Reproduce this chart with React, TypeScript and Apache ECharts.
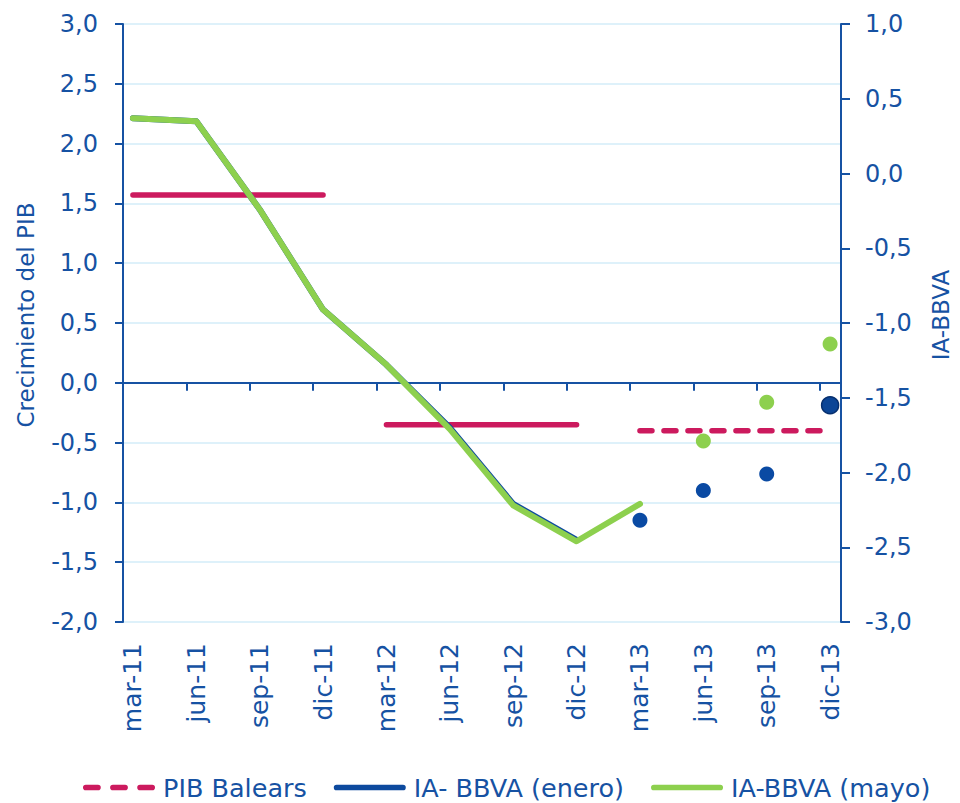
import React, { useEffect, useRef } from "react";
import * as echarts from "echarts";

const categories = [
  "mar-11", "jun-11", "sep-11", "dic-11",
  "mar-12", "jun-12", "sep-12", "dic-12",
  "mar-13", "jun-13", "sep-13", "dic-13",
];

// Crecimiento del PIB (eje izquierdo)
const pibBalears2011 = [1.57, 1.57, 1.57, 1.57, null, null, null, null, null, null, null, null];
const pibBalears2012 = [null, null, null, null, -0.35, -0.35, -0.35, -0.35, null, null, null, null];
const pibBalears2013 = [null, null, null, null, null, null, null, null, -0.4, -0.4, -0.4, -0.4];

// IA-BBVA (eje derecho)
const iaEneroLine = [0.37, 0.35, -0.24, -0.91, -1.28, -1.7, -2.21, -2.45, null, null, null, null];
const iaEneroDots = [null, null, null, null, null, null, null, null, -2.32, -2.12, -2.01, -1.55];
const iaMayoLine = [0.37, 0.35, -0.24, -0.91, -1.28, -1.71, -2.22, -2.46, -2.21, null, null, null];
const iaMayoDots = [null, null, null, null, null, null, null, null, null, -1.79, -1.53, -1.14];

const leftTicks = { min: -2, max: 3, interval: 0.5 };
const rightTicks = { min: -3, max: 1, interval: 0.5 };

const AXIS = "#1652a3";
const NAVY = "#0d4a9e";
const GREEN = "#8dd04e";
const MAGENTA = "#cc1a5e";
const GRIDLINE = "#d3edf8";
const FONT = "DejaVu Sans";

const X_MIN = -0.1565;
const X_MAX = 11.172;

const DASH_ICON =
  "path://M3,0H16A3,3 0 0 1 16,6H3A3,3 0 0 1 3,0Z" +
  "M32,0H45A3,3 0 0 1 45,6H32A3,3 0 0 1 32,0Z" +
  "M61,0H74A3,3 0 0 1 74,6H61A3,3 0 0 1 61,0Z";
const LINE_ICON = "path://M3,0H73A3,3 0 0 1 73,6H3A3,3 0 0 1 3,0Z";

const toPairs = (arr: (number | null)[]) =>
  arr.map((v, i) => (v == null ? null : [i, v])).filter((p) => p !== null);

const fmt = (v: number) => v.toFixed(1).replace(".", ",");

export default function App() {
  const ref = useRef<HTMLDivElement>(null);

  useEffect(() => {
    if (!ref.current) return;
    const chart = echarts.init(ref.current, undefined, { renderer: "svg" });

    const pibLine = (name: string, data: (number | null)[], dashed: boolean) => ({
      name,
      type: "line",
      xAxisIndex: 0,
      yAxisIndex: 0,
      data: toPairs(data),
      symbol: "none",
      z: 2,
      lineStyle: {
        color: MAGENTA,
        width: 5.5,
        cap: "round",
        type: dashed ? [12, 12] : "solid",
      },
      itemStyle: { color: MAGENTA },
    });

    chart.setOption({
      animation: false,
      backgroundColor: "#ffffff",
      textStyle: { fontFamily: FONT },
      grid: { left: 123, right: 113, top: 24, bottom: 181, containLabel: false },
      legend: {
        data: [
          { name: "PIB Balears", icon: DASH_ICON },
          { name: "IA- BBVA (enero)", icon: LINE_ICON },
          { name: "IA-BBVA (mayo)", icon: LINE_ICON },
        ],
        left: 83,
        top: 774,
        padding: 0,
        itemWidth: 72,
        itemHeight: 6,
        itemGap: 27,
        textStyle: { color: AXIS, fontSize: 25.5, lineHeight: 27, fontFamily: FONT, padding: [0, 0, 0, 3] },
      },
      xAxis: [
        {
          type: "value",
          position: "bottom",
          min: X_MIN,
          max: X_MAX,
          axisLine: { show: false, onZero: false },
          axisTick: { show: false },
          splitLine: { show: false },
          axisLabel: {
            customValues: categories.map((_, i) => i),
            formatter: (v: number) => categories[Math.round(v)] ?? "",
            rotate: 90,
            margin: 21,
            color: AXIS,
            fontSize: 25,
            fontFamily: FONT,
          },
        },
        {
          type: "value",
          position: "bottom",
          min: X_MIN,
          max: X_MAX,
          axisLine: { show: true, onZero: true, onZeroAxisIndex: 0, lineStyle: { color: AXIS, width: 2 } },
          axisTick: {
            show: true,
            customValues: categories.map((_, i) => i + X_MIN),
            length: 8,
            inside: false,
            lineStyle: { color: AXIS, width: 2 },
          },
          axisLabel: { show: false },
          splitLine: { show: false },
        },
      ],
      yAxis: [
        {
          type: "value",
          position: "left",
          min: leftTicks.min,
          max: leftTicks.max,
          interval: leftTicks.interval,
          name: "Crecimiento del PIB",
          nameLocation: "middle",
          nameRotate: 90,
          nameGap: 86,
          nameTextStyle: { color: AXIS, fontSize: 23, fontFamily: FONT, padding: [0, 0, 0, 16] },
          axisLine: { show: true, onZero: false, lineStyle: { color: AXIS, width: 2 } },
          axisTick: { show: true, length: 8, inside: false, lineStyle: { color: AXIS, width: 2 } },
          axisLabel: { formatter: fmt, color: AXIS, fontSize: 24, fontFamily: FONT, margin: 25 },
          splitLine: { show: true, lineStyle: { color: GRIDLINE, width: 1.5 } },
        },
        {
          type: "value",
          position: "right",
          min: rightTicks.min,
          max: rightTicks.max,
          interval: rightTicks.interval,
          name: "IA-BBVA",
          nameLocation: "middle",
          nameRotate: 90,
          nameGap: 88,
          nameTextStyle: { color: AXIS, fontSize: 23, fontFamily: FONT, padding: [0, 0, 0, 16] },
          axisLine: { show: true, onZero: false, lineStyle: { color: AXIS, width: 2 } },
          axisTick: { show: true, length: 9, inside: false, lineStyle: { color: AXIS, width: 2 } },
          axisLabel: { formatter: fmt, color: AXIS, fontSize: 24, fontFamily: FONT, margin: 24 },
          splitLine: { show: false },
        },
      ],
      series: [
        pibLine("PIB Balears 2011", pibBalears2011, false),
        pibLine("PIB Balears 2012", pibBalears2012, false),
        pibLine("PIB Balears", pibBalears2013, true),
        {
          name: "IA- BBVA (enero)",
          type: "line",
          xAxisIndex: 0,
          yAxisIndex: 1,
          data: toPairs(iaEneroLine),
          symbol: "none",
          z: 3,
          lineStyle: { color: NAVY, width: 6, cap: "round", join: "round" },
          itemStyle: { color: NAVY },
        },
        {
          name: "IA-BBVA (mayo)",
          type: "line",
          xAxisIndex: 0,
          yAxisIndex: 1,
          data: toPairs(iaMayoLine),
          symbol: "none",
          z: 4,
          lineStyle: { color: GREEN, width: 6, cap: "round", join: "round" },
          itemStyle: { color: GREEN },
        },
        {
          name: "IA- BBVA (enero) puntos",
          type: "scatter",
          xAxisIndex: 0,
          yAxisIndex: 1,
          data: toPairs(iaEneroDots).map((p: any, k, all) =>
            k === all.length - 1
              ? { value: p, symbolSize: 17, itemStyle: { color: "#0b4596", borderColor: "#062f6e", borderWidth: 1.5, opacity: 1 } }
              : { value: p }
          ),
          symbolSize: 15,
          z: 5,
          itemStyle: { color: "#0a4aa3", opacity: 1 },
        },
        {
          name: "IA-BBVA (mayo) puntos",
          type: "scatter",
          xAxisIndex: 0,
          yAxisIndex: 1,
          data: toPairs(iaMayoDots),
          symbolSize: 15,
          z: 5,
          itemStyle: { color: GREEN, opacity: 1 },
        },
      ],
    });

    return () => chart.dispose();
  }, []);

  return (
    <div
      ref={ref}
      style={{ position: "fixed", left: 0, top: 0, width: 960, height: 803, background: "#fff" }}
    />
  );
}
